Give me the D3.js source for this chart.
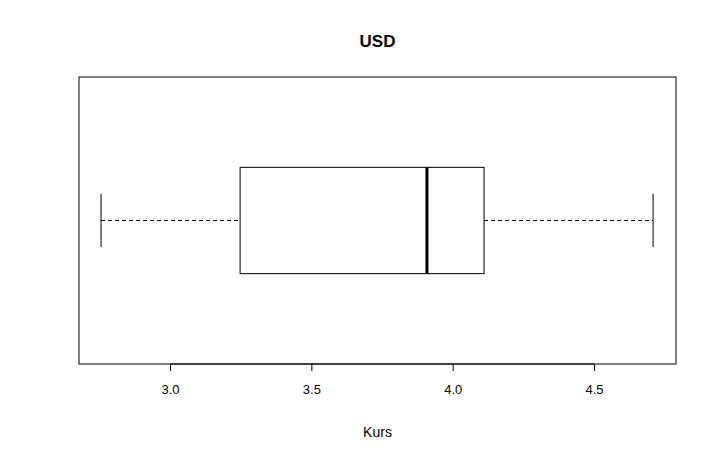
<!DOCTYPE html>
<html><head><meta charset="utf-8">
<script src="https://cdn.jsdelivr.net/npm/d3@7"></script>
<style>body{margin:0;background:#fff}svg{font-family:"Liberation Sans",Arial,sans-serif}</style>
</head><body><div id="chart"></div>
<script>
// boxplot stats
var title = 'USD';
var xLabel = 'Kurs';
var stats = [2.756, 3.248, 3.909, 4.111, 4.709]; // min, q1, median, q3, max
var ticks = [3.0, 3.5, 4.0, 4.5];

var W = 716, H = 462;
var mLeft = 79, mRight = 676, mTop = 77, mBottom = 364;

var svg = d3.select('#chart').append('svg').attr('width', W).attr('height', H);

var x = d3.scaleLinear().domain([2.678, 4.790]).range([mLeft, mRight]);
var y = d3.scaleLinear().domain([0.46, 1.54]).range([mBottom, mTop]);

svg.append('rect').attr('x', mLeft).attr('y', mTop).attr('width', mRight - mLeft).attr('height', mBottom - mTop)
  .attr('fill', 'none').attr('stroke', '#000');

var g = svg.append('g');
// whiskers
g.append('line').attr('x1', x(stats[0])).attr('x2', x(stats[1])).attr('y1', y(1)).attr('y2', y(1))
  .attr('stroke', '#000').attr('stroke-dasharray', '4,3');
g.append('line').attr('x1', x(stats[3])).attr('x2', x(stats[4])).attr('y1', y(1)).attr('y2', y(1))
  .attr('stroke', '#000').attr('stroke-dasharray', '4,3');
[stats[0], stats[4]].forEach(function (v) {
  g.append('line').attr('x1', x(v)).attr('x2', x(v)).attr('y1', y(0.9)).attr('y2', y(1.1)).attr('stroke', '#000');
});
// box
g.append('rect').attr('x', x(stats[1])).attr('y', y(1.2)).attr('width', x(stats[3]) - x(stats[1]))
  .attr('height', y(0.8) - y(1.2)).attr('fill', 'none').attr('stroke', '#000');
g.append('line').attr('x1', x(stats[2])).attr('x2', x(stats[2])).attr('y1', y(1.2)).attr('y2', y(0.8))
  .attr('stroke', '#000').attr('stroke-width', 3);

// axis
var ax = svg.append('g').attr('transform', 'translate(0,' + mBottom + ')')
  .call(d3.axisBottom(x).tickValues(ticks).tickFormat(d3.format('.1f')).tickSize(7).tickPadding(14).tickSizeOuter(0));
ax.select('.domain').attr('d', 'M' + x(ticks[0]) + ',0H' + x(ticks[ticks.length - 1]));
ax.attr('font-size', null).attr('font-family', null);
ax.selectAll('text').style('font-size', '13px').attr('fill', '#000');

svg.append('text').attr('x', (mLeft + mRight) / 2).attr('y', 47).attr('text-anchor', 'middle')
  .attr('font-weight', 'bold').attr('font-size', 17).text(title);
svg.append('text').attr('x', (mLeft + mRight) / 2).attr('y', 437).attr('text-anchor', 'middle')
  .attr('font-size', 14).text(xLabel);
</script></body></html>
